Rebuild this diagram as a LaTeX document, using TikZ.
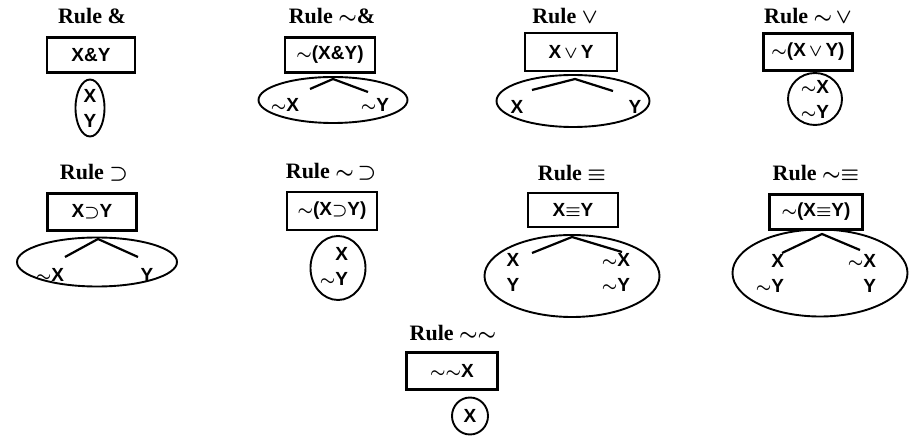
\documentclass[tikz,border=0pt]{standalone}
\usepackage{amsmath}
\usepackage{fontspec}
\usepackage{tikz}
\usetikzlibrary{shapes.geometric}
\newfontfamily\formfont{Liberation Sans}
\newfontfamily\rulefont{Liberation Serif}

\begin{document}
\begin{tikzpicture}[
  x=1pt, y=-1pt,
  rtitle/.style={inner sep=0pt, font=\rulefont\bfseries\boldmath\fontsize{22}{26}\selectfont},
  formbox/.style={draw, line width=2.2pt, inner sep=0pt, font=\formfont\bfseries\boldmath\fontsize{19}{25}\selectfont},
  oval/.style={draw, ellipse, line width=1.9pt, inner sep=0pt},
  lbl/.style={inner sep=0pt, align=center, font=\formfont\bfseries\boldmath\fontsize{19}{25}\selectfont},
  branch/.style={line width=2.2pt}
]
\useasboundingbox (0,0) rectangle (919,438);

% first row
\node[rtitle] (t1) at (92,16) {Rule \&};
\node[formbox, minimum width=88pt, minimum height=35pt] (b1) at (91,55) {X\&Y};
\node[oval, minimum width=29pt, minimum height=57pt] (o1) at (90,108) {};
\node[lbl] (x1) at (90,108) {X\\Y};

\node[rtitle] (t2) at (332,16) {Rule $\sim$\&};
\node[formbox, minimum width=90pt, minimum height=35pt] (b2) at (330,55) {$\sim$(X\&Y)};
\node[oval, minimum width=149pt, minimum height=46pt] (o2) at (333,100) {};
\node[lbl] (x2l) at (285,105) {$\sim$X};
\node[lbl] (x2r) at (375,105) {$\sim$Y};
\coordinate (p2) at (333,79);
\coordinate (p2l) at (310,89);
\coordinate (p2r) at (368,92);
\draw[branch] (p2l) -- (p2) -- (p2r);

\node[rtitle] (t3) at (565,16) {Rule $\vee$};
\node[formbox, minimum width=92pt, minimum height=38pt] (b3) at (571,52) {X\,$\vee$\,Y};
\node[oval, minimum width=153pt, minimum height=52pt] (o3) at (573,101) {};
\node[lbl] (x3l) at (517,107) {X};
\node[lbl] (x3r) at (635,107) {Y};
\coordinate (p3) at (575,79);
\coordinate (p3l) at (532,90);
\coordinate (p3r) at (613,91);
\draw[branch] (p3l) -- (p3) -- (p3r);

\node[rtitle] (t4) at (808,16) {Rule $\sim$\,$\vee$};
\node[formbox, minimum width=89pt, minimum height=37pt] (b4) at (808,52) {$\sim$(X\,$\vee$\,Y)};
\node[oval, minimum width=54pt, minimum height=52pt] (o4) at (815,99) {};
\node[lbl] (x4) at (815,99) {$\sim$X\\$\sim$Y};

% second row
\node[rtitle] (t5) at (94,173) {Rule $\supset$};
\node[formbox, minimum width=89pt, minimum height=37pt] (b5) at (92,212) {X$\supset$Y};
\node[oval, minimum width=160pt, minimum height=49pt] (o5) at (97,262) {};
\node[lbl] (x5l) at (50,275) {$\sim$X};
\node[lbl] (x5r) at (147,275) {Y};
\coordinate (p5) at (98,239);
\coordinate (p5l) at (65,257);
\coordinate (p5r) at (138,257);
\draw[branch] (p5l) -- (p5) -- (p5r);

\node[rtitle] (t6) at (331,172) {Rule $\sim$\,$\supset$};
\node[formbox, minimum width=90pt, minimum height=38pt] (b6) at (332,211) {$\sim$(X$\supset$Y)};
\node[oval, minimum width=55pt, minimum height=64pt] (o6) at (338,268) {};
\node[lbl, align=right] (x6) at (334,266) {X\\$\sim$Y};

\node[rtitle] (t7) at (572,173) {Rule $\equiv$};
\node[formbox, minimum width=90pt, minimum height=34pt] (b7) at (573,210) {X$\equiv$Y};
\node[oval, minimum width=175pt, minimum height=82pt] (o7) at (572,276) {};
\node[lbl, align=left] (x7l) at (513,272) {X\\Y};
\node[lbl, align=right] (x7r) at (616,272) {$\sim$X\\$\sim$Y};
\coordinate (p7) at (572,237);
\coordinate (p7l) at (532,253);
\coordinate (p7r) at (622,252);
\draw[branch] (p7l) -- (p7) -- (p7r);

\node[rtitle] (t8) at (816,173) {Rule $\sim$$\equiv$};
\node[formbox, minimum width=93pt, minimum height=35pt] (b8) at (816,212) {$\sim$(X$\equiv$Y)};
\node[oval, minimum width=175pt, minimum height=87pt] (o8) at (820,273) {};
\node[lbl, align=right] (x8l) at (770,273) {X\\$\sim$Y};
\node[lbl, align=right] (x8r) at (862,273) {$\sim$X\\Y};
\coordinate (p8) at (822,234);
\coordinate (p8l) at (782,253);
\coordinate (p8r) at (860,250);
\draw[branch] (p8l) -- (p8) -- (p8r);

% last row
\node[rtitle] (t9) at (453,333) {Rule $\sim\sim$};
\node[formbox, minimum width=91pt, minimum height=37pt] (b9) at (452,371) {$\sim\sim$X};
\node[oval, minimum width=36pt, minimum height=37pt] (o9) at (470,416) {};
\node[lbl] (x9) at (470,416) {X};

\end{tikzpicture}
\end{document}
